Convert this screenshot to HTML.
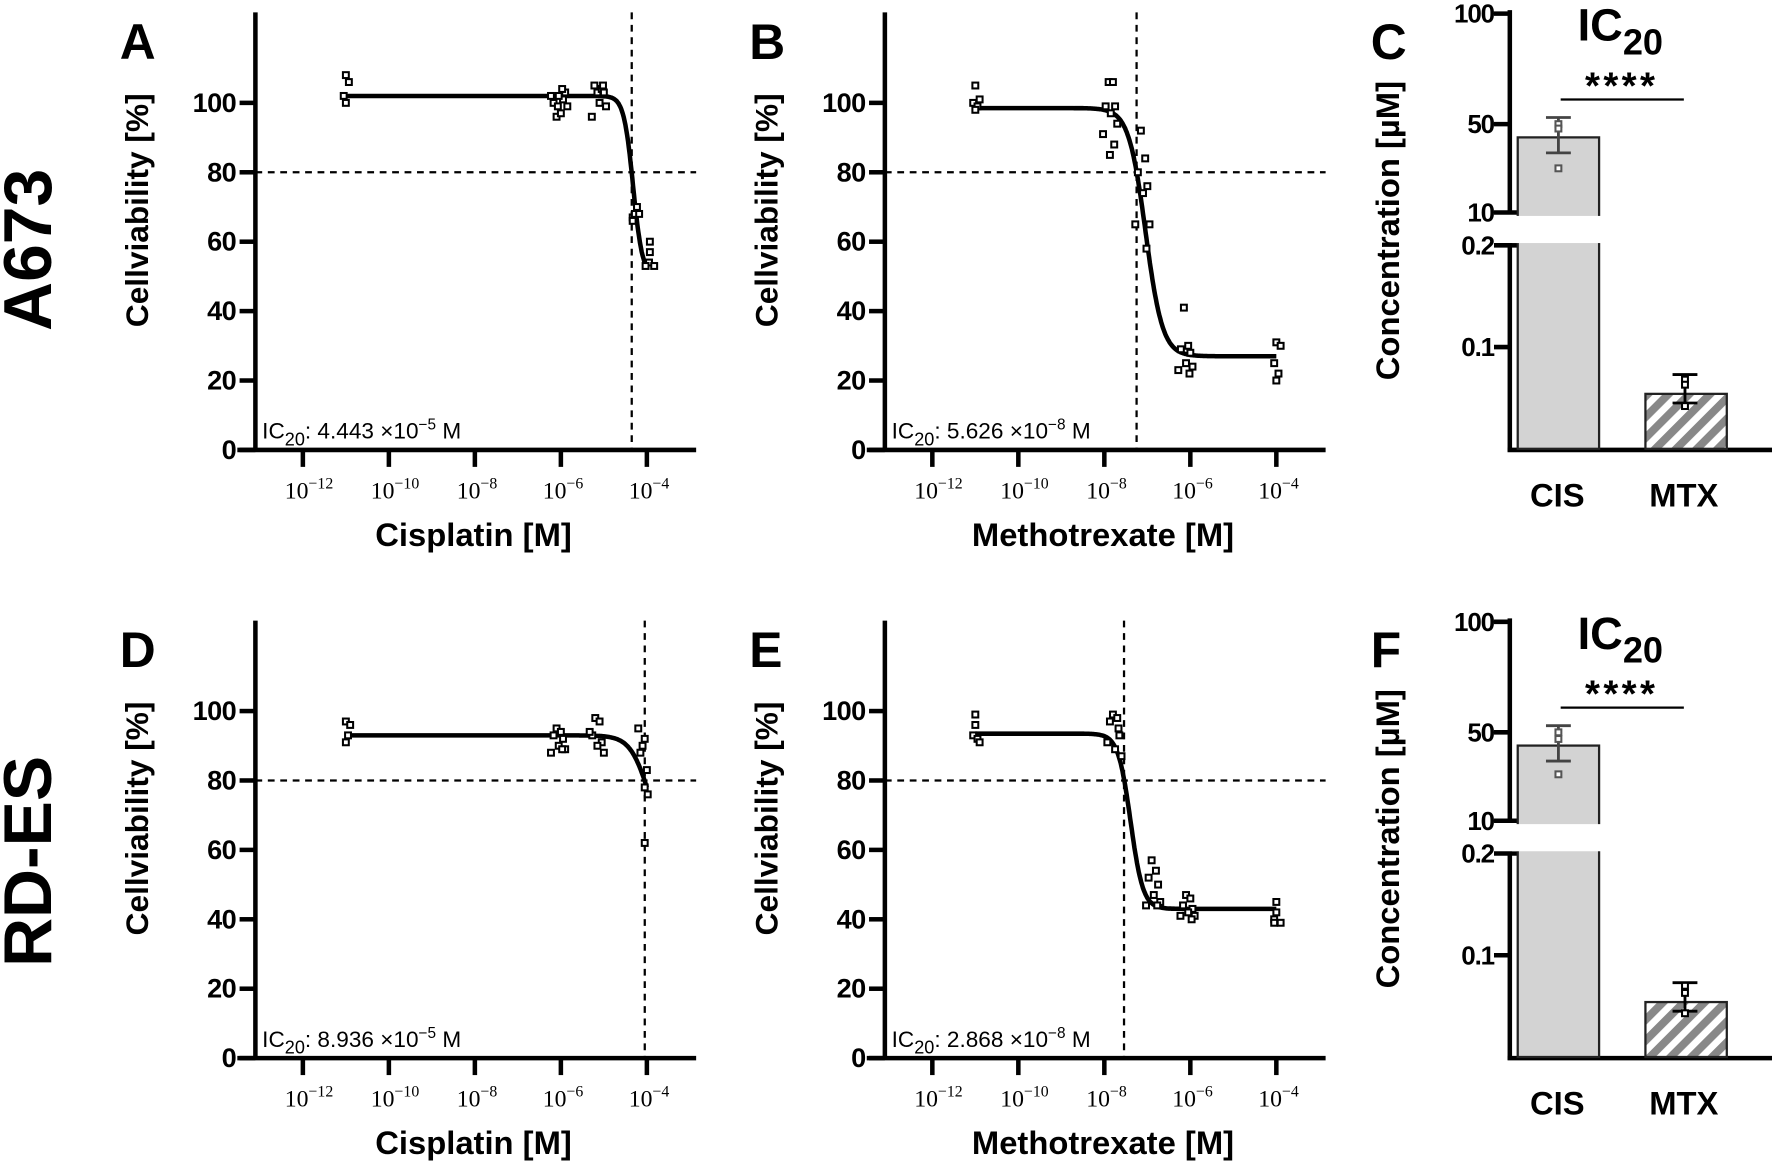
<!DOCTYPE html>
<html><head><meta charset="utf-8">
<style>
html,body{margin:0;padding:0;background:#fff;}
svg{display:block;}
text{font-family:"Liberation Sans",Arial,sans-serif;}
.b{font-weight:bold;}
.ser{font-family:"Liberation Serif",serif;}
</style></head>
<body>
<svg id="s" width="1772" height="1161" viewBox="0 0 1568 1027" preserveAspectRatio="none" xmlns="http://www.w3.org/2000/svg">
<defs>
<pattern id="hatch" patternUnits="userSpaceOnUse" width="13" height="13" patternTransform="rotate(45)">
<rect width="13" height="13" fill="#fff"/>
<rect width="7" height="13" fill="#888"/>
</pattern>
</defs>
<g id="g"></g>
</svg>
<script>
var NS="http://www.w3.org/2000/svg";
var G=document.getElementById('g');
function el(t,a,txt){var e=document.createElementNS(NS,t);for(var k in a)e.setAttribute(k,a[k]);if(txt!==undefined)e.textContent=txt;G.appendChild(e);return e;}
function line(x1,y1,x2,y2,w,dash){var a={x1:x1,y1:y1,x2:x2,y2:y2,stroke:'#000','stroke-width':w};if(dash)a['stroke-dasharray']=dash;return el('line',a);}
function rich(x,y,parts,size,extra){var t=el('text',Object.assign({x:x,y:y,'font-size':size},extra||{}));
 parts.forEach(function(p){var s=document.createElementNS(NS,'tspan');s.textContent=p[0];
  if(p[1]=='sup'){s.setAttribute('dy',-size*0.4);s.setAttribute('font-size',size*0.68);}
  else if(p[1]=='sub'){s.setAttribute('dy',size*0.3);s.setAttribute('font-size',size*0.8);}
  else if(p[1]=='up'){s.setAttribute('dy',-size*0.3);}
  else if(p[1]=='down'){s.setAttribute('dy',size*0.4);}
  t.appendChild(s);});return t;}

function panel(ox,oy,letter,xlabel,p){
 var X=function(l){return ox+42+(l+12)*38.05;};
 var Y=function(v){return oy+398-v*3.07;};
 line(ox,oy+11,ox,oy+399.5,4);
 line(ox-16,oy+398,ox+390,oy+398,4);
 [0,20,40,60,80,100].forEach(function(v){line(ox-14,Y(v),ox,Y(v),4);
  el('text',{x:ox-17,y:Y(v)+8,'font-size':24,'text-anchor':'end','class':'b','letter-spacing':'-0.5'},String(v));});
 [-12,-10,-8,-6,-4].forEach(function(l){line(X(l),oy+398,X(l),oy+413,4);
  var t=el('text',{x:X(l)-16,y:oy+441,'font-size':21,'class':'ser'});
  t.textContent='10';var s=document.createElementNS(NS,'tspan');s.setAttribute('dy',-9);s.setAttribute('font-size',14);s.textContent='\u2212'+(-l);t.appendChild(s);});
 line(ox,Y(80),ox+390,Y(80),2,'6,5');
 line(X(p.ic),oy+11,X(p.ic),oy+398,2,'6,5');
 var d='';for(var l=-11;l<=-4.0001+0.0001;l+=0.02){var v=p.bot+(p.top-p.bot)/(1+Math.pow(10,(l-p.c)*p.h));d+=(d?'L':'M')+X(l).toFixed(1)+','+Y(v).toFixed(1);}
 el('path',{d:d,fill:'none',stroke:'#000','stroke-width':4});
 p.pts.forEach(function(g){g[1].forEach(function(v,i){var jx=g[2]?g[2][i%g[2].length]:((i%3)-1)*0.12;
  el('rect',{x:X(g[0]+jx)-2.6,y:Y(v)-2.6,width:5.2,height:5.2,fill:'#fff',stroke:'#000','stroke-width':1.8});});});
 rich(ox+6,oy+388,[['IC'],['20','sub'],[': '+p.ict+' \u00d710','up'],['\u2212'+p.ie,'sup'],[' M','down']],20);
 el('text',{x:ox-120,y:oy+52,'font-size':44,'class':'b'},letter);
 el('text',{x:0,y:0,'font-size':28,'class':'b','text-anchor':'middle',transform:'translate('+(ox-95)+','+(oy+186)+') rotate(-90)'},'Cellviability [%]');
 el('text',{x:ox+193,y:oy+483,'font-size':29,'class':'b','text-anchor':'middle'},xlabel);
}

function bars(oy,letter,p){
 var ox=1336;
 var Yu=function(v){return oy+188-(v-10)*1.955;};
 var Yl=function(v){return oy+397-v*900;};
 line(ox,oy+9,ox,oy+188,4);line(ox,oy+217,ox,oy+399.5,4);
 line(ox-2,oy+398,1568,oy+398,4);
 [[100,Yu(100)],[50,Yu(50)],[10,oy+188],['0.2',oy+217],['0.1',Yl(0.1)]].forEach(function(t,i){
  var big=(i==2||i==3);line(ox-14,t[1],big?ox+10:ox,t[1],4);
  el('text',{x:ox-14,y:t[1]+8,'font-size':23,'class':'b','text-anchor':'end','letter-spacing':'-1'},String(t[0]));});
 el('rect',{x:1343,y:Yu(p.cis),width:72,height:oy+397-Yu(p.cis),fill:'#d3d3d3',stroke:'#222','stroke-width':2});
 el('rect',{x:1338,y:oy+191,width:84,height:24,fill:'#fff'});
 el('rect',{x:1456,y:Yl(p.mtx),width:72,height:oy+397-Yl(p.mtx),fill:'url(#hatch)',stroke:'#222','stroke-width':2});
 var cx=1379;line(cx,Yu(p.ce[0]),cx,Yu(p.ce[1]),2.5,null).setAttribute('stroke','#444');
 [p.ce[0],p.ce[1]].forEach(function(v){line(cx-11,Yu(v),cx+11,Yu(v),2.5).setAttribute('stroke','#444');});
 p.cp.forEach(function(v){el('rect',{x:cx-2.6,y:Yu(v)-2.6,width:5.2,height:5.2,fill:'#fff',stroke:'#555','stroke-width':1.8});});
 var mx=1491;line(mx,Yl(p.me[0]),mx,Yl(p.me[1]),2.5);
 [p.me[0],p.me[1]].forEach(function(v){line(mx-11,Yl(v),mx+11,Yl(v),2.5);});
 p.mp.forEach(function(v){el('rect',{x:mx-2.6,y:Yl(v)-2.6,width:5.2,height:5.2,fill:'#fff',stroke:'#000','stroke-width':1.8});});
 line(1381,oy+88,1490,oy+88,2);
 el('text',{x:1435,y:oy+87,'font-size':34,'class':'b','text-anchor':'middle','letter-spacing':'3'},'****');
 rich(1396,oy+36,[['IC'],['20','sub']],40,{'class':'b'});
 el('text',{x:1213,y:oy+52,'font-size':44,'class':'b'},letter);
 el('text',{x:0,y:0,'font-size':29,'class':'b','text-anchor':'middle',transform:'translate(1238,'+(oy+204)+') rotate(-90)'},'Concentration [\u00b5M]');
 el('text',{x:1378,y:oy+448,'font-size':29,'class':'b','text-anchor':'middle'},'CIS');
 el('text',{x:1490,y:oy+448,'font-size':29,'class':'b','text-anchor':'middle'},'MTX');
}

el('text',{x:0,y:0,'font-size':60,'class':'b','text-anchor':'middle',transform:'translate(45,221) rotate(-90)'},'A673');
el('text',{x:0,y:0,'font-size':60,'class':'b','text-anchor':'middle',transform:'translate(45,762) rotate(-90)'},'RD-ES');

var J=[-0.05,0.05,-0.12,0.1,0.0,0.15,-0.18,0.08,-0.02,0.2];
panel(226,0,'A','Cisplatin [M]',{top:102,bot:50,c:-4.32,h:4,ic:-4.352,ict:'4.443',ie:'5',
 pts:[[-11,[108,106,102,100],[0,0.07,-0.05,0]],[-6.05,[96,97,100,101,102,103,102,104,99,99],J],[-5.1,[103,104,105,103,100,99,96,105],J],[-4.28,[67,68,70,68,66],[-0.05,0,0.05,0.1,-0.05]],[-3.95,[60,57,54,53,53],[0.02,0.02,0.0,-0.08,0.12]]]});
panel(783,0,'B','Methotrexate [M]',{top:98.5,bot:27,c:-7.04,h:2.2,ic:-7.25,ict:'5.626',ie:'8',
 pts:[[-11,[105,101,100,99,98],[0,0.1,-0.05,0.05,0]],[-7.85,[106,106,99,99,97,94,91,88,85],J],[-7.1,[92,84,80,76,74,65,65,58],J],[-6.1,[41,30,29,28,25,24,23,22],J],[-4.0,[31,30,25,22,20],[0,0.1,-0.05,0.05,0]]]});
panel(226,538,'D','Cisplatin [M]',{top:93,bot:60,c:-3.96,h:2,ic:-4.049,ict:'8.936',ie:'5',
 pts:[[-11,[97,96,93,91],[0,0.1,0.05,0]],[-6.05,[95,94,93,92,90,89,88,89],J],[-5.15,[98,97,93,91,90,88,94],J],[-4.1,[95,92,90,88,83,78,76,62],[-0.1,0.05,0.0,-0.05,0.1,0.05,0.12,0.05]]]});
panel(783,538,'E','Methotrexate [M]',{top:93.5,bot:43,c:-7.39,h:3,ic:-7.542,ict:'2.868',ie:'8',
 pts:[[-11,[99,96,93,92,91],[0,0,-0.05,0.05,0.1]],[-7.75,[99,98,97,93,89,87,91,95],J],[-6.85,[57,54,52,50,47,45,44,44],J],[-6.05,[47,46,44,43,42,41,41,40],J],[-4.0,[45,42,40,39,39],[0,0,-0.05,-0.05,0.1]]]});
bars(0,'C',{cis:44,ce:[37,53],cp:[50,48,30],mtx:0.054,me:[0.045,0.073],mp:[0.068,0.063,0.042]});
bars(538,'F',{cis:44,ce:[37,53],cp:[50,47,31],mtx:0.054,me:[0.045,0.073],mp:[0.07,0.063,0.043]});
</script>
</body></html>
